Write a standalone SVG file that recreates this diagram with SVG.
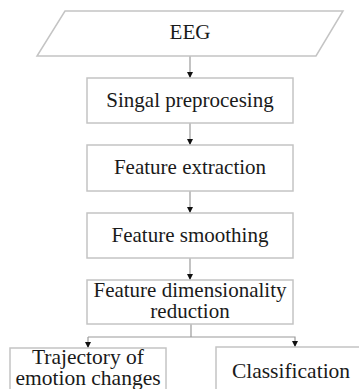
<svg xmlns="http://www.w3.org/2000/svg" width="359" height="389" viewBox="0 0 359 389">
<defs>
<style>
.box{fill:#fff;stroke:#c4c4c4;stroke-width:1.5}
.ln{fill:none;stroke:#9a9a9a;stroke-width:1.2}
.t{font-family:"Liberation Serif","Times New Roman",serif;font-size:21px;fill:#1a1a1a;text-anchor:middle}
.tb{font-size:21.5px}
</style>
<marker id="ah" viewBox="0 0 6 6" refX="6" refY="3" markerWidth="6" markerHeight="6" markerUnits="userSpaceOnUse" orient="auto">
<path d="M0,0 L6,3 L0,6 Z" fill="#111"/>
</marker>
</defs>
<rect width="359" height="389" fill="#fff"/>
<g id="connectors">
<line class="ln" x1="190" y1="56" x2="190" y2="78" marker-end="url(#ah)"/>
<line class="ln" x1="190" y1="123" x2="190" y2="145" marker-end="url(#ah)"/>
<line class="ln" x1="190" y1="191" x2="190" y2="213" marker-end="url(#ah)"/>
<line class="ln" x1="190" y1="258" x2="190" y2="280" marker-end="url(#ah)"/>
<line class="ln" x1="191" y1="324" x2="191" y2="337"/>
<polyline class="ln" points="88,337 295,337 295,347" marker-end="url(#ah)"/>
<line class="ln" x1="88" y1="337" x2="88" y2="348" marker-end="url(#ah)"/>
</g>
<g id="eeg">
<polygon class="box" points="65,11 343,11 316,56 37,56"/>
<text class="t" x="190" y="39">EEG</text>
</g>
<g id="preprocessing">
<rect class="box" x="87" y="78" width="206" height="45"/>
<text class="t" x="190" y="107">Singal preprocesing</text>
</g>
<g id="extraction">
<rect class="box" x="87" y="145" width="206" height="46"/>
<text class="t" x="190" y="174">Feature extraction</text>
</g>
<g id="smoothing">
<rect class="box" x="87" y="213" width="206" height="45"/>
<text class="t" x="190" y="242">Feature smoothing</text>
</g>
<g id="reduction">
<rect class="box" x="87" y="280" width="206" height="44"/>
<text class="t" x="190" y="297">Feature dimensionality</text>
<text class="t" x="190" y="318">reduction</text>
</g>
<g id="trajectory">
<rect class="box" x="10" y="348" width="156" height="50"/>
<text class="t tb" x="88" y="364">Trajectory of</text>
<text class="t tb" x="88" y="385">emotion changes</text>
</g>
<g id="classification">
<rect class="box" x="216" y="347" width="150" height="50"/>
<text class="t tb" x="291" y="378">Classification</text>
</g>
</svg>
